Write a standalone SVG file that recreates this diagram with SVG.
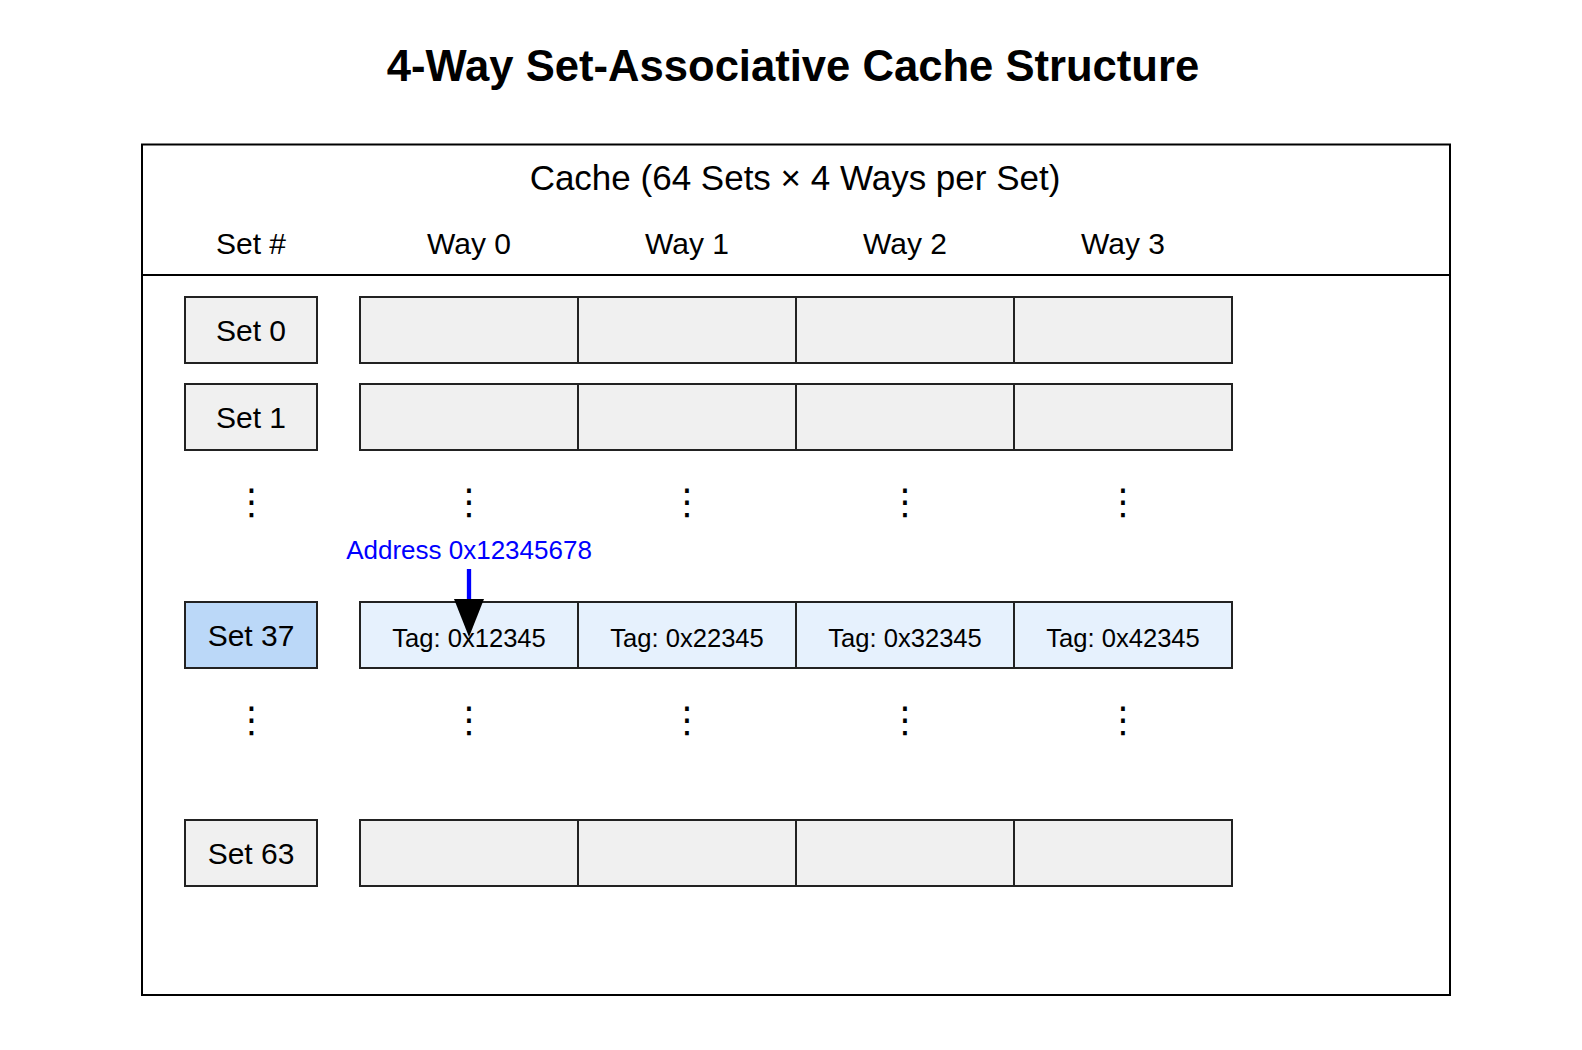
<svg xmlns="http://www.w3.org/2000/svg" width="1582" height="1050" viewBox="0 0 1582 1050">
<style>
text{font-family:"Liberation Sans",Arial,Helvetica,sans-serif;fill:#000;text-anchor:middle}
.title{font-size:43.6px;font-weight:bold}
.hdr{font-size:35px}
.col{font-size:30px}
.lbl{font-size:30px}
.tag{font-size:25.6px}
.addr{font-size:26px;fill:#0000ff}
.dots{font-family:"DejaVu Sans",sans-serif;font-size:36px}
.setbox{fill:#f0f0f0;stroke:#222;stroke-width:2}
.sethi{fill:#bbd8f8;stroke:#222;stroke-width:2}
.cell{fill:#f0f0f0;stroke:#222;stroke-width:2}
.cellhi{fill:#e6f1fd;stroke:#222;stroke-width:2}
</style>
<defs>
<marker id="ah" markerUnits="userSpaceOnUse" markerWidth="38" markerHeight="30" viewBox="0 0 38 30" refX="0" refY="15" orient="auto">
<path d="M0,0 L38,15 L0,30 Z" fill="#000"/>
</marker>
</defs>
<rect width="1582" height="1050" fill="#fff"/>
<text class="title" x="793" y="81">4-Way Set-Associative Cache Structure</text>
<g id="cache">
<rect x="142" y="144.5" width="1308" height="850.5" fill="#fff" stroke="#000" stroke-width="2"/>
<line x1="142" y1="275" x2="1450" y2="275" stroke="#000" stroke-width="2"/>
<text class="hdr" x="795" y="190">Cache (64 Sets × 4 Ways per Set)</text>
<text class="col" x="251" y="254">Set #</text>
<text class="col" x="469" y="254">Way 0</text>
<text class="col" x="687" y="254">Way 1</text>
<text class="col" x="905" y="254">Way 2</text>
<text class="col" x="1123" y="254">Way 3</text>
</g>
<g id="set0">
<rect class="setbox" x="185" y="297" width="132" height="66"/>
<text class="lbl" x="251" y="341">Set 0</text>
<rect class="cell" x="360" y="297" width="218" height="66"/>
<rect class="cell" x="578" y="297" width="218" height="66"/>
<rect class="cell" x="796" y="297" width="218" height="66"/>
<rect class="cell" x="1014" y="297" width="218" height="66"/>
</g>
<g id="set1">
<rect class="setbox" x="185" y="384" width="132" height="66"/>
<text class="lbl" x="251" y="428">Set 1</text>
<rect class="cell" x="360" y="384" width="218" height="66"/>
<rect class="cell" x="578" y="384" width="218" height="66"/>
<rect class="cell" x="796" y="384" width="218" height="66"/>
<rect class="cell" x="1014" y="384" width="218" height="66"/>
</g>
<g id="dots1">
<text class="dots" x="251.5" y="514">⋮</text>
<text class="dots" x="469" y="514">⋮</text>
<text class="dots" x="687" y="514">⋮</text>
<text class="dots" x="905" y="514">⋮</text>
<text class="dots" x="1123" y="514">⋮</text>
</g>
<g id="set37">
<rect class="sethi" x="185" y="602" width="132" height="66"/>
<text class="lbl" x="251" y="646">Set 37</text>
<rect class="cellhi" x="360" y="602" width="218" height="66"/>
<rect class="cellhi" x="578" y="602" width="218" height="66"/>
<rect class="cellhi" x="796" y="602" width="218" height="66"/>
<rect class="cellhi" x="1014" y="602" width="218" height="66"/>
<text class="tag" x="469" y="646.5">Tag: 0x12345</text>
<text class="tag" x="687" y="646.5">Tag: 0x22345</text>
<text class="tag" x="905" y="646.5">Tag: 0x32345</text>
<text class="tag" x="1123" y="646.5">Tag: 0x42345</text>
</g>
<g id="dots2">
<text class="dots" x="251.5" y="732">⋮</text>
<text class="dots" x="469" y="732">⋮</text>
<text class="dots" x="687" y="732">⋮</text>
<text class="dots" x="905" y="732">⋮</text>
<text class="dots" x="1123" y="732">⋮</text>
</g>
<g id="set63">
<rect class="setbox" x="185" y="820" width="132" height="66"/>
<text class="lbl" x="251" y="864">Set 63</text>
<rect class="cell" x="360" y="820" width="218" height="66"/>
<rect class="cell" x="578" y="820" width="218" height="66"/>
<rect class="cell" x="796" y="820" width="218" height="66"/>
<rect class="cell" x="1014" y="820" width="218" height="66"/>
</g>
<g id="address">
<text class="addr" x="469" y="559">Address 0x12345678</text>
</g>
<g id="connectors">
<line x1="469" y1="569" x2="469" y2="599" stroke="#0000ff" stroke-width="4.3" marker-end="url(#ah)"/>
</g>
</svg>
